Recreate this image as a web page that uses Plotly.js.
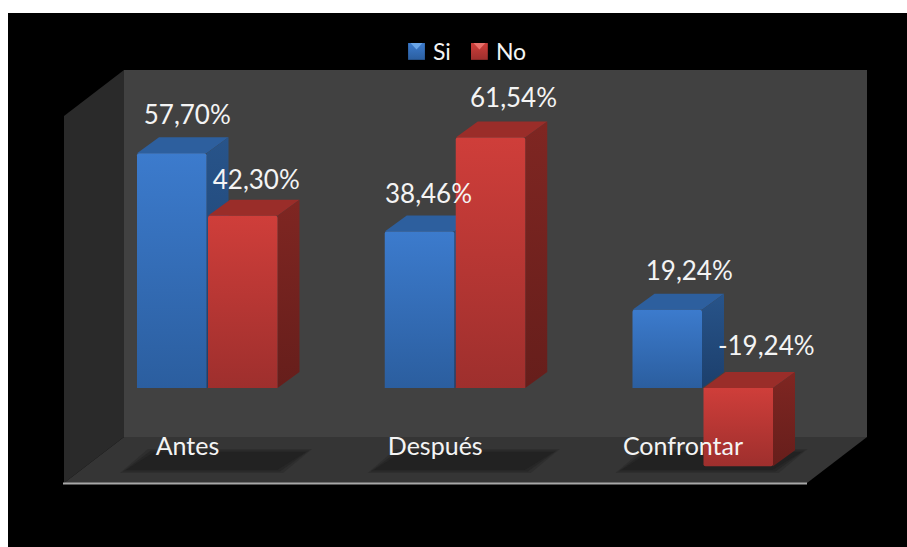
<!DOCTYPE html>
<html>
<head>
<meta charset="utf-8">
<script src="https://cdn.plot.ly/plotly-3.0.1.min.js"></script>
<style>html,body{margin:0;padding:0;background:#fff}#chart{width:907px;height:547px}</style>
</head>
<body>
<div id="chart"></div>
<script>
// Survey results before and after, with their difference
const categories = ['Antes', 'Después', 'Confrontar'];
const si = [57.70, 38.46, 19.24];
const no = [42.30, 61.54, -19.24];

// Hand-placed label nudges, in pixels from the bar's top centre
const siLabelDx = [15.5, 9, 22];
const siLabelDy = [-36, -35, -36];
const noLabelDx = [13.5, 23, 28];
const noLabelDy = [-33, -37, -40];

// Canvas scale of the chart
const W = 907, H = 547;
const originX = 207, originY = 388, groupPx = 247.75, unitPx = 4.07;
const X = px => (px - originX) / groupPx;
const Y = py => (originY - py) / unitPx;

// Bar geometry and the extrusion used for the box look
const barW = 69.5 / groupPx;
const siOffset = -70 / groupPx;
const noOffset = 1 / groupPx;
const depthX = 22 / groupPx;
const depthY = 16 / unitPx;

const styles = {
  si: {front: ['#3c7bcd', '#2b5e9f'], top: '#2d5f9e', side: ['#28548a', '#1c3f6c']},
  no: {front: ['#cf3e3a', '#9e2f2d'], top: '#9a2d29', side: ['#7f2622', '#661e1b']}
};

const fmt = v => v.toFixed(2).replace('.', ',') + '%';

function polyTrace(xs, ys, z, fill) {
  const t = {x: xs, y: ys, type: 'scatter', mode: 'none', fill: 'toself', hoverinfo: 'skip',
             showlegend: false, zorder: z};
  if (Array.isArray(fill)) {
    t.fillgradient = {type: 'vertical', colorscale: [[0, fill[1]], [1, fill[0]]]};
  } else {
    t.fillcolor = fill;
  }
  return t;
}

// Top and side faces of every bar, derived from its value
function boxFaces(values, offset, style, z) {
  const out = [];
  values.forEach((v, i) => {
    const xl = i + offset, xr = xl + barW;
    const hi = Math.max(v, 0), lo = Math.min(v, 0);
    out.push(polyTrace([xl, xl + depthX, xr + depthX, xr, xl],
                       [hi, hi + depthY, hi + depthY, hi, hi], z, style.top));
    out.push(polyTrace([xr, xr + depthX, xr + depthX, xr, xr],
                       [hi, hi + depthY, lo + depthY, lo, hi], z, style.side));
  });
  return out;
}

const xs = categories.map((_, i) => i);

const traces = [
  ...boxFaces(si, siOffset, styles.si, 1),
  {type: 'bar', name: 'Si', x: xs, y: si, width: barW, offset: siOffset,
   marker: {color: styles.si.front[0]}, hoverinfo: 'skip', zorder: 2},
  ...boxFaces(no, noOffset, styles.no, 3),
  {type: 'bar', name: 'No', x: xs, y: no, width: barW, offset: noOffset,
   marker: {color: styles.no.front[0]}, hoverinfo: 'skip', zorder: 4},
  {type: 'scatter', mode: 'text', showlegend: false, hoverinfo: 'skip', zorder: 5,
   x: xs.map(i => i + siOffset + barW / 2 + siLabelDx[i] / groupPx),
   y: si.map((v, i) => Math.max(v, 0) - siLabelDy[i] / unitPx),
   text: si.map(fmt), textposition: 'middle center',
   textfont: {family: 'Lato', size: 26, color: '#f4f4f4'}},
  {type: 'scatter', mode: 'text', showlegend: false, hoverinfo: 'skip', zorder: 5,
   x: xs.map(i => i + noOffset + barW / 2 + noLabelDx[i] / groupPx),
   y: no.map((v, i) => Math.max(v, 0) - noLabelDy[i] / unitPx),
   text: no.map(fmt), textposition: 'middle center',
   textfont: {family: 'Lato', size: 26, color: '#f4f4f4'}}
];

function path(points) {
  return 'M' + points.map(p => X(p[0]) + ',' + Y(p[1])).join('L') + 'Z';
}
function frameShape(points, color) {
  return {type: 'path', xref: 'x', yref: 'y', layer: 'below', path: path(points),
          fillcolor: color, line: {width: 0}};
}

// Room behind the bars: backdrop, back wall, side wall, floor and front edge
const shapes = [
  frameShape([[8, 13], [W, 13], [W, H], [8, H]], '#000000'),
  frameShape([[124, 70], [867, 70], [867, 437], [124, 437]], '#414141'),
  frameShape([[64, 116], [124, 70], [124, 437], [64, 483]], '#2a2a2a'),
  frameShape([[64, 483], [124, 437], [867, 437], [807, 483]], '#353535'),
  {type: 'line', xref: 'x', yref: 'y', layer: 'below', x0: X(63), x1: X(807), y0: Y(483.5), y1: Y(483.5),
   line: {color: '#a8a8a8', width: 2}}
];

// Soft floor shadow under each pair of bars
categories.forEach((_, i) => {
  const shift = i * groupPx;
  const quad = (a, b) => [[120 + a + shift, 473 - b], [283 - a + shift, 473 - b],
                          [312 - a + shift, 449 + b], [148 + a + shift, 449 + b]];
  shapes.push(frameShape(quad(0, 0), '#2e2e2e'));
  shapes.push(frameShape(quad(3, 1.5), '#272727'));
  shapes.push(frameShape(quad(6, 3), '#222222'));
});

const layout = {
  width: W, height: H,
  margin: {l: 0, r: 0, t: 0, b: 0},
  paper_bgcolor: '#ffffff', plot_bgcolor: 'rgba(0,0,0,0)',
  barmode: 'overlay', barcornerradius: 2,
  xaxis: {
    range: [X(0), X(W)], fixedrange: true, showgrid: false, zeroline: false, showline: false,
    anchor: 'free', position: (H - 429) / H, ticks: '',
    tickmode: 'array', tickvals: xs.map(i => i - 19.5 / groupPx), ticktext: categories,
    tickfont: {family: 'Lato', size: 25, color: '#f4f4f4'}
  },
  yaxis: {range: [Y(H), Y(0)], fixedrange: true, visible: false},
  legend: {
    orientation: 'h', x: 393 / W, xanchor: 'left', y: 1 - 30 / H, yanchor: 'top',
    font: {family: 'Lato', size: 23, color: '#f4f4f4'}, bgcolor: 'rgba(0,0,0,0)',
    itemclick: false, itemdoubleclick: false, traceorder: 'normal', tracegroupgap: 0
  },
  shapes: shapes,
  showlegend: true
};

const NS = 'http://www.w3.org/2000/svg';
function addGradient(defs, id, colors) {
  const g = document.createElementNS(NS, 'linearGradient');
  g.setAttribute('id', id);
  g.setAttribute('x1', '0'); g.setAttribute('y1', '0');
  g.setAttribute('x2', '0'); g.setAttribute('y2', '1');
  colors.forEach((c, i) => {
    const s = document.createElementNS(NS, 'stop');
    s.setAttribute('offset', String(i));
    s.setAttribute('stop-color', c);
    g.appendChild(s);
  });
  defs.appendChild(g);
}

Plotly.newPlot('chart', traces, layout, {displayModeBar: false}).then(gd => {
  const svg = gd.querySelector('svg.main-svg');
  const defs = svg.querySelector('defs');
  addGradient(defs, 'gradSi', styles.si.front);
  addGradient(defs, 'gradNo', styles.no.front);

  // Vertical shading on the front faces
  gd.querySelectorAll('.trace.bars').forEach((t, k) => {
    t.querySelectorAll('.point path').forEach(p => {
      p.style.fill = 'url(#' + (k === 0 ? 'gradSi' : 'gradNo') + ')';
    });
  });

  // Category names stay readable in front of the bars
  const layer = gd.querySelector('.cartesianlayer');
  const axisLabels = gd.querySelector('.xaxislayer-above');
  if (layer && axisLabels) layer.appendChild(axisLabels);

  // Larger square, bevelled legend keys
  const bevel = ['#6aa6e8', '#e8706a'];
  gd.querySelectorAll('.legend .legendpoints').forEach((k, i) => {
    const p = k.querySelector('path');
    if (!p) return;
    p.setAttribute('d', 'M6,6H-6V-6H6Z');
    p.style.fill = 'url(#' + (i === 0 ? 'gradSi' : 'gradNo') + ')';
    p.setAttribute('transform', 'translate(23.5,0) scale(1.4)');
    const tri = document.createElementNS(NS, 'path');
    tri.setAttribute('d', 'M-6,-8.4L6,-8.4L0,-2Z');
    tri.setAttribute('transform', 'translate(23.5,0)');
    tri.setAttribute('fill', bevel[i]);
    p.parentNode.appendChild(tri);
  });
});
</script>
</body>
</html>
